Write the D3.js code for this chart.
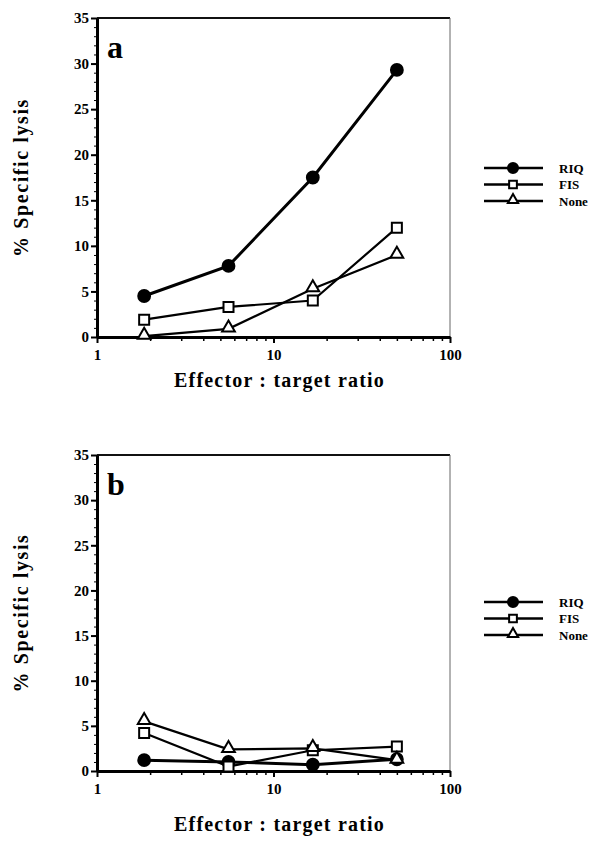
<!DOCTYPE html>
<html><head><meta charset="utf-8">
<script src="https://cdn.jsdelivr.net/npm/d3@7"></script>
<style>body{margin:0;background:#fff}svg{display:block}
text{font-family:"Liberation Serif","Times New Roman","DejaVu Serif",serif;}</style>
</head><body>
<script>
const ratios = [1.85, 5.56, 16.7, 50];
const seriesNames = ["RIQ", "FIS", "None"];
const panelA_RIQ  = [4.5, 7.8, 17.5, 29.3];
const panelA_FIS  = [1.9, 3.3, 4.0, 12.0];
const panelA_None = [0.1, 0.9, 5.3, 9.0];
const panelB_RIQ  = [1.2, 1.0, 0.7, 1.3];
const panelB_FIS  = [4.2, 0.5, 2.3, 2.7];
const panelB_None = [5.5, 2.4, 2.5, 1.2];
const yTicks = [0, 5, 10, 15, 20, 25, 30, 35];
const xTicks = [1, 10, 100];
const panels = [
  {label: "a", data: [panelA_RIQ, panelA_FIS, panelA_None], top: 18, bottom: 337, legendY: 168, xTitleY: 387},
  {label: "b", data: [panelB_RIQ, panelB_FIS, panelB_None], top: 455, bottom: 771, legendY: 602, xTitleY: 831}
];
const W = 603, H = 842;
const svg = d3.select("body").append("svg").attr("width", W).attr("height", H);
const left = 97, right = 450;

const symbols = [d3.symbolCircle, d3.symbolSquare, d3.symbolTriangle];
const symSizes = [110, 100, 70];
const fills = ["#000", "#fff", "#fff"];
const widths = [3, 2.2, 2.2];

panels.forEach(p => {
  const x = d3.scaleLog().domain([1, 100]).range([left, right]);
  const y = d3.scaleLinear().domain([0, 35]).range([p.bottom, p.top]);
  const g = svg.append("g");

  g.append("line").attr("x1", left).attr("x2", right).attr("y1", p.top).attr("y2", p.top).attr("stroke", "#111").attr("stroke-width", 2);
  g.append("line").attr("x1", right).attr("x2", right).attr("y1", p.top).attr("y2", p.bottom).attr("stroke", "#666").attr("stroke-width", 1);

  const minor = [];
  for (let d = 1; d < 100; d *= 10) for (let k = 2; k <= 9; k++) minor.push(d * k);
  g.append("g").attr("transform", `translate(0,${p.bottom})`)
    .call(d3.axisBottom(x).tickValues(minor).tickSize(4).tickFormat(""))
    .call(s => s.select(".domain").remove())
    .call(s => s.selectAll("line").attr("stroke-width", 1.5));
  const xa = g.append("g").attr("transform", `translate(0,${p.bottom})`)
    .call(d3.axisBottom(x).tickValues(xTicks).tickSize(6).tickFormat(d3.format("d")).tickSizeOuter(0));
  xa.select(".domain").attr("stroke-width", 3);
  xa.selectAll("line").attr("stroke-width", 2);
  xa.selectAll("text").attr("font-family", null).attr("font-weight", "bold").attr("font-size", 15).attr("dy", "0.9em").attr("fill", "#000");

  g.append("g").attr("transform", `translate(${left},0)`)
    .call(d3.axisLeft(y).tickValues(d3.range(0, 36, 1)).tickSize(3).tickFormat(""))
    .call(s => s.select(".domain").remove())
    .call(s => s.selectAll("line").attr("stroke-width", 1));
  const ya = g.append("g").attr("transform", `translate(${left},0)`)
    .call(d3.axisLeft(y).tickValues(yTicks).tickSize(6).tickSizeOuter(0));
  ya.select(".domain").attr("stroke-width", 3);
  ya.selectAll("line").attr("stroke-width", 2);
  ya.selectAll("text").attr("font-family", null).attr("font-weight", "bold").attr("font-size", 15).attr("x", -8).attr("fill", "#000");

  g.append("text").attr("x", 107).attr("y", p.top + 40).text(p.label)
    .attr("font-weight", "bold").attr("font-size", 32);

  g.append("text").attr("x", (left + right) / 2 + 6).attr("y", p.xTitleY).attr("text-anchor", "middle")
    .attr("font-weight", "bold").attr("font-size", 20).attr("letter-spacing", 1.2)
    .text("Effector : target ratio");
  g.append("text").attr("transform", `translate(28,${(p.top + p.bottom) / 2}) rotate(-90)`).attr("text-anchor", "middle")
    .attr("font-weight", "bold").attr("font-size", 20).attr("letter-spacing", 1.6)
    .text("% Specific lysis");

  const line = d3.line().x((d, i) => x(ratios[i])).y(d => y(d));
  p.data.forEach((vals, si) => {
    g.append("path").datum(vals).attr("d", line).attr("fill", "none").attr("stroke", "#000").attr("stroke-width", widths[si]);
  });
  [0, 1, 2].forEach(si => {
    g.selectAll(null).data(p.data[si]).enter().append("path")
      .attr("transform", (d, i) => `translate(${x(ratios[i])},${y(d) - (si === 2 ? 1 : 0)})`)
      .attr("d", d3.symbol().type(symbols[si]).size(symSizes[si]))
      .attr("fill", fills[si]).attr("stroke", "#000").attr("stroke-width", 2);
  });

  seriesNames.forEach((name, si) => {
    const ly = p.legendY + si * 16.5;
    g.append("line").attr("x1", 484).attr("x2", 543).attr("y1", ly).attr("y2", ly).attr("stroke", "#000").attr("stroke-width", 2.5);
    g.append("path").attr("transform", `translate(513,${ly - (si === 2 ? 1 : 0)})`)
      .attr("d", d3.symbol().type(symbols[si]).size([80, 60, 45][si]))
      .attr("fill", fills[si]).attr("stroke", "#000").attr("stroke-width", 2);
    g.append("text").attr("x", 559).attr("y", ly + 4.5).text(name)
      .attr("font-weight", "bold").attr("font-size", 13);
  });
});
</script>
</body></html>
